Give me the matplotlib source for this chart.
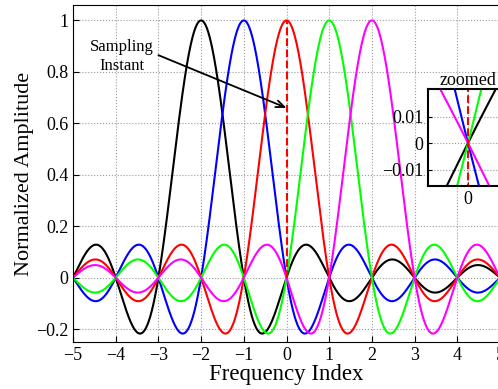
import numpy as np
import matplotlib
matplotlib.use("Agg")
import matplotlib.pyplot as plt

# subcarrier centres and their colours
centers = [-2, -1, 0, 1, 2]
colors = ['k', 'b', 'r', '#00ff00', '#ff00ff']

x_ticks = [-5, -4, -3, -2, -1, 0, 1, 2, 3, 4, 5]
x_labels = ['\u22125', '\u22124', '\u22123', '\u22122', '\u22121', '0', '1', '2', '3', '4', '5']
y_ticks = [-0.2, 0, 0.2, 0.4, 0.6, 0.8, 1]
y_labels = ['\u22120.2', '0', '0.2', '0.4', '0.6', '0.8', '1']
zoom_yticks = [-0.01, 0, 0.01]
zoom_ylabels = ['\u22120.01', '0', '0.01']

plt.rcParams['font.family'] = ['Liberation Serif', 'DejaVu Serif']

x = np.linspace(-5, 5, 2001)

fig = plt.figure(figsize=(4.98, 3.89), dpi=100)
ax = fig.add_axes([73/498, 1 - 342/389, 427/498, 337/389])

for c, col in zip(centers, colors):
    ax.plot(x, np.sinc(x - c), color=col, lw=1.5)
ax.plot([0, 0], [0, 1], color='r', ls='--', lw=1.5)

ax.set_xlim(-5, 5)
ax.set_ylim(-0.25, 1.06)
ax.set_xticks(x_ticks)
ax.set_xticklabels(x_labels)
ax.set_yticks(y_ticks)
ax.set_yticklabels(y_labels)
ax.tick_params(direction='in', labelsize=13, length=4)
ax.grid(True, ls=':', color='0.6', lw=0.8)
ax.spines['right'].set_visible(False)
ax.set_xlabel('Frequency Index', fontsize=16.5, labelpad=0)
ax.set_ylabel('Normalized Amplitude', fontsize=16, labelpad=1)

# sampling instant note
ax.text(-3.85, 0.86, 'Sampling\nInstant', fontsize=12, ha='center', va='center',
        linespacing=1.2)
ax.annotate('', xy=(0.0, 0.66), xytext=(-3.0, 0.865),
            arrowprops=dict(arrowstyle='->,head_length=0.6,head_width=0.25',
                            color='k', lw=1.3, shrinkA=0, shrinkB=0))

# inset
axi = fig.add_axes([428/498, 1 - 186/389, 80/498, 97/389])
for c, col in zip(centers, colors):
    axi.plot(x, np.sinc(x - c), color=col, lw=1.5)
axi.plot([0, 0], [-1, 1], color='r', ls='--', lw=1.5)
axi.set_xlim(-0.06, 0.06)
axi.set_ylim(-0.0162, 0.0204)
axi.set_xticks([0])
axi.set_xticklabels(['0'])
axi.set_yticks(zoom_yticks)
axi.set_yticklabels(zoom_ylabels)
axi.tick_params(direction='in', labelsize=13, length=3)
axi.grid(True, ls=':', color='0.6', lw=0.8)
for s in axi.spines.values():
    s.set_linewidth(1.5)
axi.set_title('zoomed', fontsize=13, pad=3)

fig.savefig('out.png', dpi=100)
